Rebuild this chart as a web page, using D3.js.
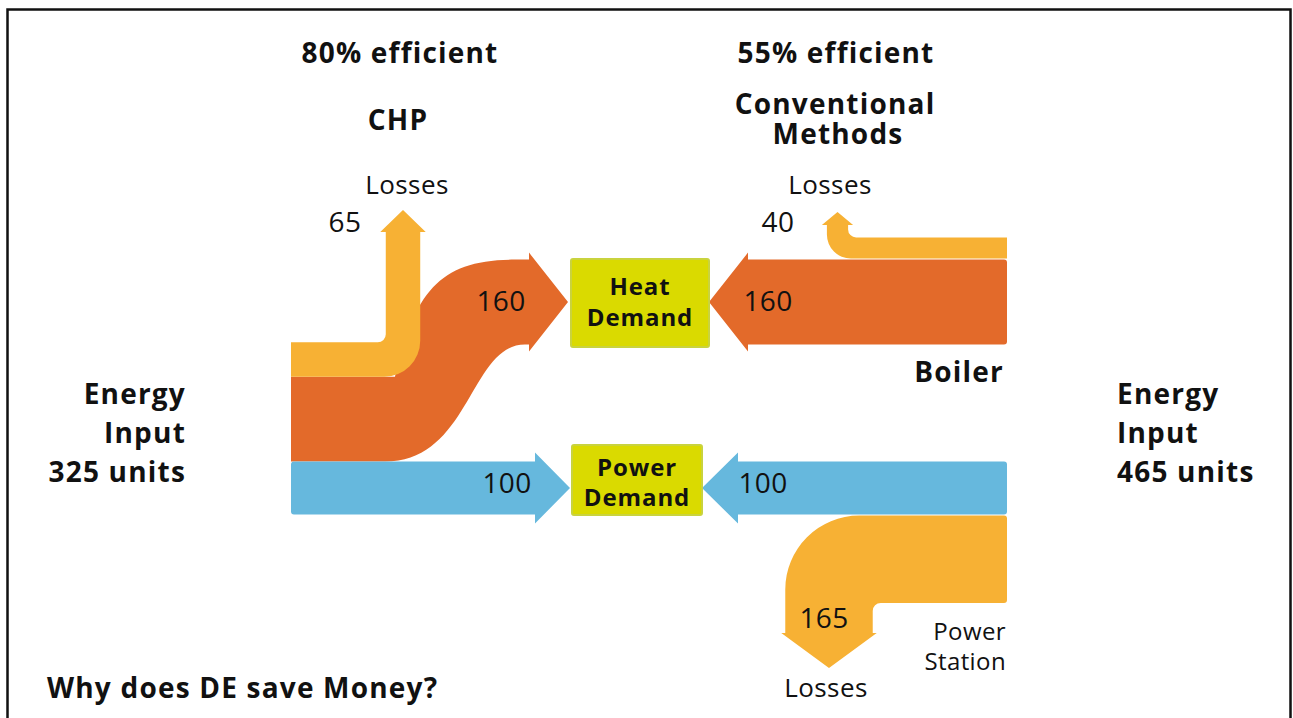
<!DOCTYPE html>
<html>
<head>
<meta charset="utf-8">
<script src="https://cdn.jsdelivr.net/npm/d3@7"></script>
<style>
	body { margin:0; background:#fff; }
	text { font-family:"Open Sans", "Noto Sans", sans-serif; fill:#111; }
	.bold { font-weight:700; letter-spacing:1.2px; }
	.box text { letter-spacing:0.9px; }
	.thin { letter-spacing:0.4px; }
</style>
</head>
<body>
<div id="chart"></div>
<script>
// values
let systems = ["CHP", "Conventional Methods"]
let efficiency = [80, 55]
let chpFlows = ["Losses", "Heat", "Power"]
let chpValues = [65, 160, 100]
let convFlows = ["Boiler losses", "Heat", "Power", "Power station losses"]
let convValues = [40, 160, 100, 165]
let demands = ["Heat Demand", "Power Demand"]

let colours = {loss:"#F7B134", heat:"#E36A2A", power:"#66B8DD", box:"#DADA00", boxLine:"#C9D33E"}

let width = 1293, height = 718
let svg = d3.select("#chart").append("svg")
	.attr("width", width)
	.attr("height", height)

// frame
svg.append("path")
	.attr("d", `M7.5,${height+5}V9.5H1290.5V${height+5}`)
	.attr("fill","none")
	.attr("stroke","#111")
	.attr("stroke-width",2.5)

// band thickness per unit
let w = d3.scaleLinear().domain([0,100]).range([0,53])

let heatY = 302, powerY = 488
let leftX = 291, rightX = 1007

let g = svg.append("g")

function band(d, fill){
	g.append("path").attr("d", d.toString()).attr("fill", fill)
}

// straight arrow, dir 1 = points right, -1 = points left
function straight(x0, yT, yB, xBase, len, over, dir){
	let p = d3.path()
	let r = 3
	p.moveTo(xBase, yT)
	p.arcTo(x0, yT, x0, yB, r)
	p.arcTo(x0, yB, xBase, yB, r)
	p.lineTo(xBase, yB)
	p.lineTo(xBase, yB+over)
	p.lineTo(xBase+dir*len, (yT+yB)/2)
	p.lineTo(xBase, yT-over)
	p.closePath()
	return p
}

// ---------- CHP side ----------
let chpPowerTop = powerY - w(chpValues[2])/2
let chpPowerBot = powerY + w(chpValues[2])/2
let chpHeatTop = chpPowerTop - w(chpValues[1])
let chpLossTop = chpHeatTop - w(chpValues[0])
let heatTop = heatY - w(chpValues[1])/2
let heatBot = heatY + w(chpValues[1])/2

// heat: S shaped band up to the heat row
{
	let p = d3.path()
	let xb = 529, len = 39, over = 7
	p.moveTo(leftX, chpPowerTop)
	p.lineTo(385, chpPowerTop)
	p.bezierCurveTo(470, chpPowerTop, 470, heatBot, 525, heatBot)
	p.lineTo(xb, heatBot)
	p.lineTo(xb, heatBot+over)
	p.lineTo(xb+len, heatY)
	p.lineTo(xb, heatTop-over)
	p.lineTo(xb, heatTop)
	p.lineTo(515, heatTop)
	p.bezierCurveTo(440, heatTop, 415, chpHeatTop-86, 395, chpHeatTop)
	p.lineTo(leftX, chpHeatTop)
	p.closePath()
	band(p, colours.heat)
}

// losses: elbow going up
{
	let lw = w(chpValues[0]), xc = 403
	let xL = xc - lw/2, xR = xc + lw/2
	let base = 232, tip = 210, over = 5.5
	let p = d3.path()
	p.moveTo(leftX+3, chpHeatTop)
	p.arcTo(xR, chpHeatTop, xR, base, 36)
	p.lineTo(xR, base)
	p.lineTo(xR+over, base)
	p.lineTo(xc, tip)
	p.lineTo(xL-over, base)
	p.lineTo(xL, base)
	p.arcTo(xL, chpLossTop, leftX, chpLossTop, 8)
	p.lineTo(leftX, chpLossTop)
	p.lineTo(leftX, chpHeatTop)
	p.closePath()
	band(p, colours.loss)
}

// power: straight
band(straight(leftX, chpPowerTop, chpPowerBot, 535, 35, 9, 1), colours.power)

// ---------- conventional side ----------
band(straight(rightX, heatTop, heatBot, 748, 39, 7, -1), colours.heat)
band(straight(rightX, chpPowerTop, chpPowerBot, 738, 36, 9, -1), colours.power)

// boiler losses: small elbow going up
{
	let lw = w(convValues[0]), xc = 837.5
	let xL = xc - lw/2, xR = xc + lw/2
	let yB = heatTop - 1, yT = yB - lw
	let base = 225, tip = 212, over = 5
	let p = d3.path()
	p.moveTo(rightX, yT)
	p.arcTo(xR, yT, xR, base, 8)
	p.lineTo(xR, base)
	p.lineTo(xR+over, base)
	p.lineTo(xc, tip)
	p.lineTo(xL-over, base)
	p.lineTo(xL, base)
	p.arcTo(xL, yB, rightX, yB, 24)
	p.lineTo(rightX, yB)
	p.closePath()
	band(p, colours.loss)
}

// power station losses: big elbow going down
{
	let lw = w(convValues[3]), xc = 829
	let xL = xc - lw/2, xR = xc + lw/2
	let yT = chpPowerBot + 1, yB = yT + lw
	let base = 633, tip = 668, over = 4
	let p = d3.path()
	p.moveTo(rightX, yT+3)
	p.arcTo(rightX, yT, xL, yT, 3)
	p.arcTo(xL, yT, xL, base, 74)
	p.lineTo(xL, base)
	p.lineTo(xL-over, base)
	p.lineTo(xc, tip)
	p.lineTo(xR+over, base)
	p.lineTo(xR, base)
	p.arcTo(xR, yB, rightX, yB, 8)
	p.arcTo(rightX, yB, rightX, yT, 3)
	p.closePath()
	band(p, colours.loss)
}

// ---------- demand boxes ----------
let boxes = [
	{name: demands[0], x:571, y:259, w:138, h:88, ty:[295,326]},
	{name: demands[1], x:572, y:445, w:130, h:70, ty:[476,506]}
]
let box = svg.selectAll(".box").data(boxes).enter().append("g").attr("class","box")
box.append("rect")
	.attr("x", d=>d.x).attr("y", d=>d.y)
	.attr("width", d=>d.w).attr("height", d=>d.h)
	.attr("rx", 2)
	.attr("fill", colours.box)
	.attr("stroke", colours.boxLine)
	.attr("stroke-width", 2)
box.append("text")
	.style("font-weight", 700)
	.attr("text-anchor","middle")
	.attr("font-size", 24)
	.selectAll("tspan")
	.data(d=>d.name.split(" ").map((t,i)=>({t:t, x:d.x+d.w/2, y:d.ty[i]})))
	.enter().append("tspan")
	.attr("x", d=>d.x)
	.attr("y", d=>d.y)
	.text(d=>d.t)

// ---------- labels ----------
function label(txt, x, y, size, anchor, bold){
	return svg.append("text")
		.attr("x", x).attr("y", y)
		.attr("font-size", size)
		.attr("text-anchor", anchor)
		.attr("class", bold ? "bold" : "thin")
		.text(txt)
}

label(`${efficiency[0]}% efficient`, 400, 63, 28, "middle", true)
label(`${efficiency[1]}% efficient`, 836, 63, 28, "middle", true)
label(systems[0], 398, 130, 28, "middle", true)
// two line title kept in one text element
{
	let t = label(null, 835, 114, 28, "middle", true)
	t.selectAll("tspan").data(systems[1].split(" ")).enter().append("tspan")
		.attr("x", (d,i)=>835 + i*3)
		.attr("y", (d,i)=>114 + i*30)
		.text(d=>d)
}

label("Losses", 407, 194, 26, "middle", false)
label("Losses", 830, 194, 26, "middle", false)
label("Losses", 826, 697, 26, "middle", false)

label(chpValues[0], 345, 232, 28, "middle", false)
label(convValues[0], 778, 232, 28, "middle", false)
label(chpValues[1], 501, 311, 28, "middle", false)
label(convValues[1], 768, 311, 28, "middle", false)
label(chpValues[2], 507, 493, 28, "middle", false)
label(convValues[2], 763, 493, 28, "middle", false)
label(convValues[3], 824, 628, 28, "middle", false)

label("Boiler", 1004, 382, 28, "end", true)
label("Power", 1006, 640, 24, "end", false)
label("Station", 1006, 670, 24, "end", false)

let chpTotal = d3.sum(chpValues), convTotal = d3.sum(convValues)
;["Energy", "Input", `${chpTotal} units`].forEach((t,i)=>label(t, 186, 404+i*39, 28, "end", true))
;["Energy", "Input", `${convTotal} units`].forEach((t,i)=>label(t, 1117, 404+i*39, 28, "start", true))

label("Why does DE save Money?", 47, 698, 28, "start", true)
</script>
</body>
</html>
